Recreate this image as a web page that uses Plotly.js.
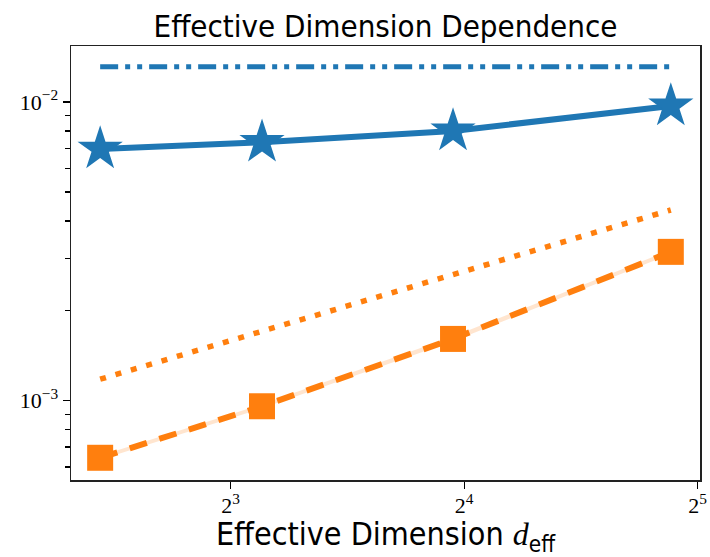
<!DOCTYPE html>
<html>
<head>
<meta charset="utf-8">
<script src="https://cdn.plot.ly/plotly-3.0.1.min.js"></script>
<style>html,body{margin:0;padding:0;background:#fff;}#chart{width:710px;height:557px;}</style>
</head>
<body>
<div id="chart"></div>
<script>
// Effective dimension values (x)
const dEff = [5.43, 8.78, 15.48, 29.55];

// Blue series (stars, solid) with its band
const blueMean  = [0.00696, 0.00733, 0.00800, 0.00970];
const blueLower = [0.00686, 0.00720, 0.00788, 0.00956];
const blueUpper = [0.00706, 0.00748, 0.00814, 0.00984];

// Blue reference level (dash-dot-dot)
const blueRef = [0.01313, 0.01313, 0.01313, 0.01313];

// Orange series (squares, dashed) with its band
const orangeMean  = [0.000644, 0.000958, 0.00161, 0.00315];
const orangeLower = [0.000634, 0.000943, 0.00158, 0.00310];
const orangeUpper = [0.000654, 0.000973, 0.00164, 0.00320];

// Orange reference slope (dotted)
const orangeRef = [0.00118, 0.00171, 0.00264, 0.00435];

// Tick labels
const xTickVals = [8, 16, 32];
const xTickText = ['2<sup>3</sup>', '2<sup>4</sup>', '2<sup>5</sup>'];
const yTickVals = [0.001, 0.01];
const yTickText = ['10<sup>\u22123</sup>', '10<sup>\u22122</sup>'];
const yMinorVals = [0.0006, 0.0007, 0.0008, 0.0009, 0.002, 0.003, 0.004, 0.005, 0.006, 0.007, 0.008, 0.009];

const BLUE = '#1f77b4';
const ORANGE = '#ff7f0e';

const traces = [
  // blue band
  {x: dEff, y: blueLower, mode: 'lines', line: {width: 0, color: BLUE}, hoverinfo: 'skip', showlegend: false},
  {x: dEff, y: blueUpper, mode: 'lines', line: {width: 0, color: BLUE}, fill: 'tonexty', fillcolor: 'rgba(31,119,180,0.2)', hoverinfo: 'skip', showlegend: false},
  // orange band
  {x: dEff, y: orangeLower, mode: 'lines', line: {width: 0, color: ORANGE}, hoverinfo: 'skip', showlegend: false},
  {x: dEff, y: orangeUpper, mode: 'lines', line: {width: 0, color: ORANGE}, fill: 'tonexty', fillcolor: 'rgba(255,127,14,0.2)', hoverinfo: 'skip', showlegend: false},
  // blue reference
  {x: dEff, y: blueRef, mode: 'lines', line: {color: BLUE, width: 5, dash: '18px,7px,5px,7px,5px,7px'}, showlegend: false},
  // orange reference
  {x: dEff, y: orangeRef, mode: 'lines', line: {color: ORANGE, width: 5.5, dash: '6px,10px'}, showlegend: false},
  // blue main
  {x: dEff, y: blueMean, mode: 'lines+markers', line: {color: BLUE, width: 6},
   marker: {symbol: 'star', size: 34, color: BLUE, line: {width: 0}}, showlegend: false},
  // orange main
  {x: dEff, y: orangeMean, mode: 'lines+markers', line: {color: ORANGE, width: 6, dash: '18px,13px'},
   marker: {symbol: 'square', size: 26, color: ORANGE, line: {width: 0}}, showlegend: false},
  // invisible trace carrying the minor-tick axis
  {x: [dEff[0]], y: [blueMean[0]], yaxis: 'y2', mode: 'markers', marker: {opacity: 0}, hoverinfo: 'skip', showlegend: false}
];

const serif = '"Liberation Serif", "DejaVu Serif", serif';
const sans = '"Liberation Sans Narrow", "DejaVu Sans Condensed", "Liberation Sans", sans-serif';
const yRange = [-3.2655, -1.8125];

const layout = {
  width: 710, height: 557,
  margin: {l: 71, r: 10, t: 46, b: 77},
  paper_bgcolor: '#fff', plot_bgcolor: '#fff',
  title: {
    text: 'Effective Dimension Dependence',
    font: {family: sans, size: 31, color: '#000'},
    x: 0.5, xref: 'paper', xanchor: 'center',
    y: 1 - 26/557, yref: 'container', yanchor: 'middle'
  },
  xaxis: {
    type: 'log',
    range: [0.6972, 1.5082],
    tickvals: xTickVals, ticktext: xTickText,
    ticks: 'outside', ticklen: 7, tickwidth: 1.2, tickcolor: '#000',
    ticklabelstandoff: -2,
    tickfont: {family: serif, size: 22, color: '#000'},
    showgrid: false, zeroline: false,
    showline: true, linecolor: '#222', linewidth: 1.5, mirror: true,
    title: {
      text: 'Effective Dimension <span style="font-family:\'Liberation Serif\',serif"><i>d</i></span><sub>eff</sub>',
      font: {family: sans, size: 32, color: '#000'},
      standoff: 9
    }
  },
  yaxis: {
    type: 'log',
    range: yRange,
    tickvals: yTickVals, ticktext: yTickText,
    ticks: 'outside', ticklen: 7, tickwidth: 1.2, tickcolor: '#000',
    tickfont: {family: serif, size: 22, color: '#000'},
    showgrid: false, zeroline: false,
    showline: true, linecolor: '#222', linewidth: 1.5, mirror: true
  },
  yaxis2: {
    type: 'log',
    range: yRange,
    overlaying: 'y', side: 'left', anchor: 'x',
    tickmode: 'array', tickvals: yMinorVals,
    ticks: 'outside', ticklen: 5, tickwidth: 1.3, tickcolor: '#000',
    showticklabels: false, showgrid: false, zeroline: false, showline: false
  }
};

Plotly.newPlot('chart', traces, layout, {displayModeBar: false, staticPlot: true});
</script>
</body>
</html>
